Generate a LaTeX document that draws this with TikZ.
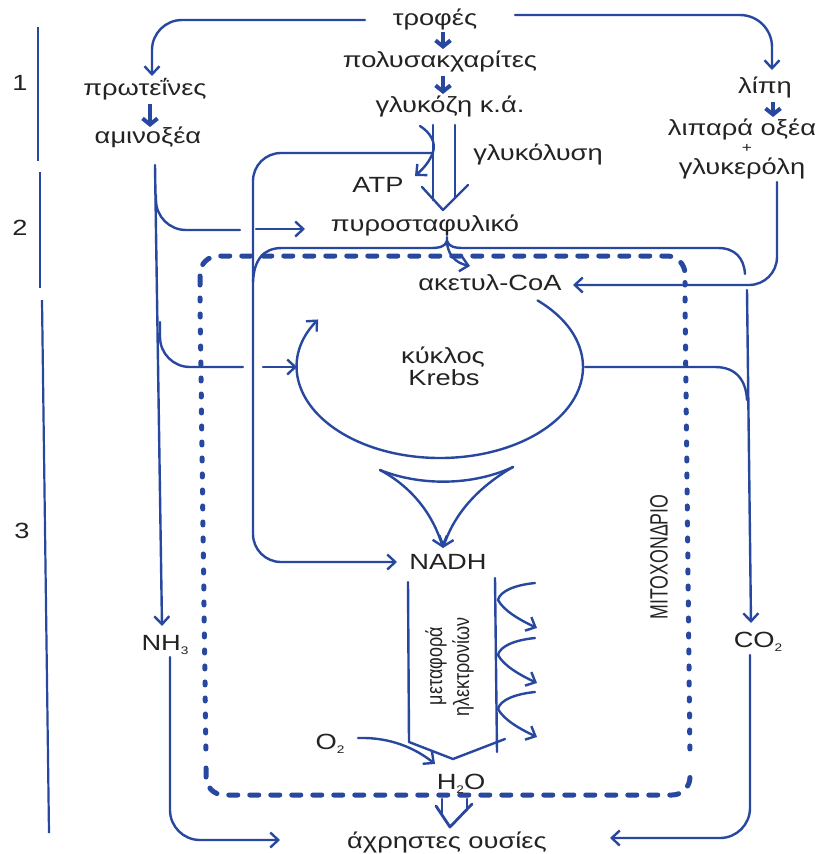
\documentclass[tikz,border=0pt]{standalone}
\usepackage{fontspec}
\setmainfont[FakeStretch=1.24]{Liberation Sans}
\newfontfamily\plainsf{Liberation Sans}
\usetikzlibrary{arrows.meta,calc}
\definecolor{lblue}{RGB}{40,72,160}
\definecolor{ink}{RGB}{35,35,35}
\newcommand\mysub[1]{\raisebox{-4pt}{\fontsize{11}{11}\selectfont #1}}
\begin{document}
\begin{tikzpicture}[x=1pt,y=-1pt,
  txt/.style={text=ink,font=\fontsize{22}{22}\selectfont,text height=11.5pt,text depth=0pt,inner sep=2pt},
  rtxt/.style={text=ink,rotate=90,inner sep=1pt},
  ln/.style={draw=lblue,line width=2.4pt,line cap=round},
  arr/.style={ln,-{Straight Barb[length=8pt,width=15pt]}},
  arrV/.style={ln,-{Straight Barb[length=9pt,width=15pt]}},
  thk/.style={draw=lblue,line width=4pt,-{Straight Barb[length=6pt,width=15pt]}},
  bar/.style={draw=lblue,line width=2.2pt},
  dashH/.style={draw=lblue,line width=5pt,line cap=round,dash pattern=on 9pt off 12pt,rounded corners=18pt},
  dashV/.style={draw=lblue,line width=5pt,line cap=round,dash pattern=on 3pt off 13pt}]
\useasboundingbox[fill=white] (0,0) rectangle (822,854);

% mitochondrion border
\draw[dashH] (200,285) |- (685,256) -- (685,285);
\draw[dashH] (206,768) |- (690,795) -- (690,768);
\draw[dashV] (200,298) -- (206,758);
\draw[dashV] (685,298) -- (690,758);

% stage bars
\draw[bar] (38,27) -- (38,161);
\draw[bar] (40,172) -- (40,288);
\draw[bar] (42,300) -- (49,833);

% text nodes
\node[txt] (one) at (20,85) {1};
\node[txt] (two) at (20,230) {2};
\node[txt] (three) at (22,533) {3};
\node[txt] (trof) at (435,20) {τροφές};
\node[txt] (polys) at (440,62) {πολυσακχαρίτες};
\node[txt] (glyk) at (450,107) {γλυκόζη κ.ά.};
\node[txt] (prot) at (145,90) {πρωτεΐνες};
\node[txt] (amino) at (148,138) {αμινοξέα};
\node[txt] (lipi) at (765,88) {λίπη};
\node[txt] (lipara) at (742,130) {λιπαρά οξέα};
\node[text=ink,font=\fontsize{14}{14}\selectfont,inner sep=0pt] (plus) at (747,148) {+};
\node[txt] (glyker) at (742,169) {γλυκερόλη};
\node[txt] (glykol) at (538,155) {γλυκόλυση};
\node[txt] (atp) at (378,187) {ATP};
\node[txt] (pyro) at (425,226) {πυροσταφυλικό};
\node[txt] (acetyl) at (490,285) {ακετυλ-CoA};
\node[txt] (kyklos) at (443,358) {κύκλος};
\node[txt] (krebs) at (444,380) {Krebs};
\node[txt] (nadh) at (448,564) {NADH};
\node[txt] (nh3) at (165,645) {NH\mysub{3}};
\node[txt] (co2) at (758,642) {CO\mysub{2}};
\node[txt] (o2) at (330,744) {O\mysub{2}};
\node[txt] (h2o) at (461,784) {H\mysub{2}O};
\node[txt] (waste) at (447,843) {άχρηστες ουσίες};
\node[rtxt,font=\plainsf\fontsize{18}{18}\selectfont] (meta) at (436,666) {\scalebox{1}[1.24]{μεταφορά}};
\node[rtxt,font=\plainsf\fontsize{18}{18}\selectfont] (ilek) at (463,667) {\scalebox{1}[1.24]{ηλεκτρονίων}};
\node[rtxt,font=\plainsf\fontsize{25}{25}\selectfont] (mito) at (659,557) {\scalebox{0.71}[1]{ΜΙΤΟΧΟΝΔΡΙΟ}};
\coordinate (kc) at (440,367);

% routing coordinates
\coordinate (tL) at (365,20);  \coordinate (pT) at (152,76);
\coordinate (tR) at (515,15);  \coordinate (lT) at (772,70);

% thick short arrows
\draw[thk] (443,32) -- (443,49);
\draw[thk] (443,76) -- (443,94);
\draw[thk] (150,104) -- (150,127);
\draw[thk] (773,102) -- (773,117);

% food splits
\draw[arr,rounded corners=30pt] (tL) -| (pT);
\draw[arr,rounded corners=32pt] (tR) -| (lT);

% amino acids trunk and branches
\draw[arr] (155,165) -- (162,626);
\draw[ln,rounded corners=30pt] (156,195) |- (240,230);
\draw[arr] (256,229) -- (305,229);
\draw[ln,rounded corners=30pt] (160,322) |- (243,367);
\draw[arr] (263,367) -- (297,367);
\draw[arr,rounded corners=30pt] (170,657) |- (280,840);

% glycolysis
\draw[ln] (433,125) -- (433,200);
\draw[ln] (455,125) -- (455,197);
\draw[ln,line join=round] (422,187) -- (443,210) -- (468,185);
\draw[arr] (420,126) .. controls (431,133) and (436,143) .. (433,152) .. controls (430,161) and (424,168) .. (415,176);
\draw[arr,rounded corners=28pt] (433,153) -| (253,562) -- (397,562);

% pyruvate -> acetyl-CoA
\draw[arr] (447,237) .. controls (446,255) and (456,263) .. (470,266);
\draw[ln] (447,241) .. controls (445,247) and (439,248) .. (430,248) -- (282,248) .. controls (263,248) and (254,260) .. (253,282);
\draw[ln] (447,241) .. controls (449,247) and (455,248) .. (464,248) -- (718,248) .. controls (735,248) and (744,258) .. (745,274);
\draw[arr] (747,290) -- (751,623);
\draw[arr,rounded corners=30pt] (750,655) |- (610,838);
\draw[arr,rounded corners=28pt] (777,182) |- (573,285);

% Krebs cycle
\draw[arr] ([shift={(-47:143 and 91)}]kc) arc[start angle=-47,end angle=211.5,x radius=143,y radius=91];
\draw[ln] (585,367) -- (715,367) .. controls (736,367) and (746,380) .. (747,400);
\draw[ln] (380,470) .. controls (420,486) and (472,486) .. (513,467);
\draw[arrV] (380,470) .. controls (410,486) and (432,512) .. (443,548);
\draw[arrV] (513,467) .. controls (480,486) and (455,512) .. (443,548);

% electron transport
\draw[ln,line join=round] (408,582) -- (409,742) -- (453,759) -- (505,739);
\draw[ln] (495,578) -- (497,752);
\foreach \y in {583,638,692}{
  \draw[arr] (535,\y) .. controls (515,\y+2) and (500,\y+8) .. (498,\y+17) .. controls (504,\y+28) and (520,\y+37) .. (537,\y+45);
}
\draw[arr] (358,738) .. controls (390,737) and (415,748) .. (435,764);

% water to waste
\draw[ln,line width=2.8pt] (442,799) -- (442,814);
\draw[ln,line width=2.8pt] (467,799) -- (467,810);
\draw[ln,line width=2.8pt,line join=round] (436,806) -- (450,827) -- (472,804);
\end{tikzpicture}
\end{document}
